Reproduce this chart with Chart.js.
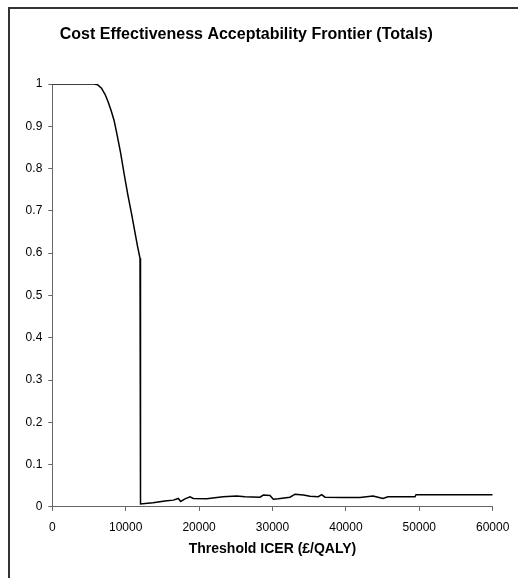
<!DOCTYPE html>
<html>
<head>
<meta charset="utf-8">
<script src="https://cdn.jsdelivr.net/npm/chart.js@4/dist/chart.umd.min.js"></script>
<style>
  html, body { margin: 0; padding: 0; background: #fff; overflow: hidden; }
  #wrap { position: relative; width: 518px; height: 578px; }
  #frame {
    position: absolute; left: 8px; top: 7px; width: 530px; height: 590px;
    border-top: 2px solid #333; border-left: 2px solid #333; pointer-events: none;
  }
  canvas { position: absolute; left: 0; top: 0; }
</style>
</head>
<body>
<div id="wrap">
  <canvas id="ceaf" width="518" height="578"></canvas>
  <div id="frame"></div>
</div>
<script>
// Threshold (£/QALY) and probability cost-effective on the frontier
const thresholds = [
  0, 5700, 6200, 6700, 7200, 7600, 8000, 8400, 8800, 9300, 9800, 10300, 10800, 11200, 11600, 11950, 12000,
  12000, 12050, 13720, 15350, 16490, 17170, 17490, 18080, 18760, 19210, 21040, 23260, 25120,
  26250, 28300, 28750, 29660, 30110, 30790, 32380, 33070, 34200, 35110, 36240, 36700, 37150,
  39650, 41920, 43690, 45050, 45730, 49410, 49550, 60000
];
const probability = [
  1, 1, 0.998, 0.99, 0.975, 0.958, 0.938, 0.915, 0.882, 0.838, 0.786, 0.737, 0.693, 0.655, 0.617, 0.588, 0.585,
  0.007, 0.007, 0.010, 0.014, 0.016, 0.020, 0.013, 0.019, 0.024, 0.020, 0.019, 0.024, 0.026,
  0.024, 0.023, 0.028, 0.027, 0.018, 0.019, 0.023, 0.030, 0.028, 0.025, 0.024, 0.029, 0.023,
  0.022, 0.022, 0.026, 0.020, 0.024, 0.024, 0.029, 0.029
];

const xTicks = [0, 10000, 20000, 30000, 40000, 50000, 60000];
const yTicks = [0, 0.1, 0.2, 0.3, 0.4, 0.5, 0.6, 0.7, 0.8, 0.9, 1];

const points = thresholds.map((t, i) => ({ x: t, y: probability[i] }));

const FONT = "'Liberation Sans', Arial, sans-serif";
const axisGrey = '#666';

const ctx = document.getElementById('ceaf').getContext('2d');
new Chart(ctx, {
  type: 'line',
  data: {
    datasets: [{
      data: points,
      borderColor: '#000',
      borderWidth: 1.5,
      pointRadius: 0,
      tension: 0,
      fill: false
    }]
  },
  options: {
    responsive: false,
    animation: false,
    layout: { padding: { left: 0, right: 25.3, top: 0, bottom: 20.1 } },
    plugins: {
      legend: { display: false },
      tooltip: { enabled: false },
      title: {
        display: true,
        text: 'Cost Effectiveness Acceptability Frontier (Totals)',
        color: '#000',
        font: { family: FONT, size: 16, weight: 'bold' },
        padding: { top: 25.4, bottom: 39.4 }
      }
    },
    scales: {
      x: {
        type: 'linear',
        min: 0,
        max: 60000,
        afterBuildTicks: scale => { scale.ticks = xTicks.map(v => ({ value: v })); },
        afterFit: scale => {
          scale.height = 51;
          // keep the plot edge fixed; the end labels may overhang
          scale.paddingLeft = 0;
          scale.paddingRight = 0;
        },
        ticks: {
          color: '#000',
          font: { family: FONT, size: 12 },
          padding: 10,
          maxRotation: 0,
          callback: v => String(v)
        },
        grid: { drawOnChartArea: false, drawTicks: true, tickLength: 4, color: axisGrey },
        border: { color: axisGrey, width: 1 },
        title: {
          display: true,
          text: 'Threshold ICER (£/QALY)',
          color: '#000',
          font: { family: FONT, size: 14, weight: 'bold' },
          padding: { top: 7, bottom: 0 }
        }
      },
      y: {
        min: 0,
        max: 1,
        afterBuildTicks: scale => { scale.ticks = yTicks.map(v => ({ value: v })); },
        afterFit: scale => { scale.width = 52.3; },
        ticks: {
          color: '#000',
          font: { family: FONT, size: 12 },
          padding: 6,
          callback: v => String(Math.round(v * 10) / 10)
        },
        grid: { drawOnChartArea: false, drawTicks: true, tickLength: 4, color: axisGrey },
        border: { color: axisGrey, width: 1 }
      }
    }
  }
});
</script>
</body>
</html>
